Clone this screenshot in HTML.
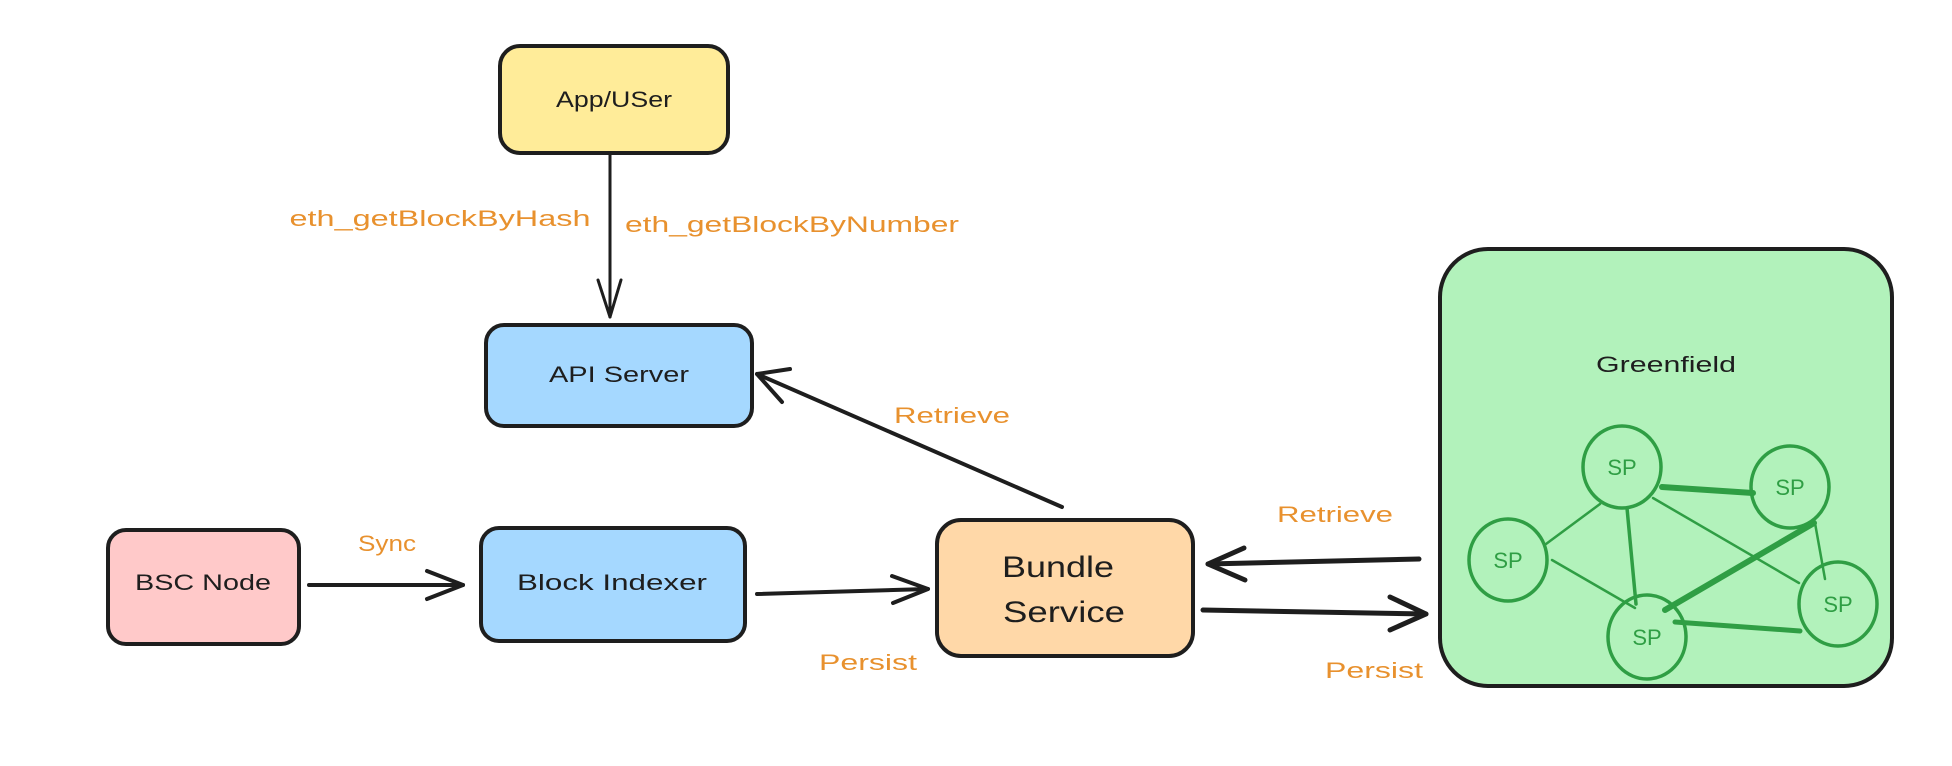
<!DOCTYPE html>
<html><head><meta charset="utf-8"><style>
html,body{margin:0;padding:0;background:#fff;}
svg{display:block;}
text{font-family:"Liberation Sans",sans-serif;}
</style></head><body>
<svg width="1952" height="766" viewBox="0 0 1952 766" xmlns="http://www.w3.org/2000/svg">
<g stroke="#1e1e1e" stroke-width="4" stroke-linejoin="round">
<rect x="500" y="46" width="228" height="107" rx="20" fill="#ffec99"/>
<rect x="486" y="325" width="266" height="101" rx="18" fill="#a5d8ff"/>
<rect x="108" y="530" width="191" height="114" rx="18" fill="#ffc9c9"/>
<rect x="481" y="528" width="264" height="113" rx="18" fill="#a5d8ff"/>
<rect x="937" y="520" width="256" height="136" rx="24" fill="#ffd8a8"/>
<rect x="1440" y="249" width="452" height="437" rx="48" fill="#b2f2bb"/>
</g>
<g stroke="#1e1e1e" stroke-width="3" fill="none" stroke-linecap="round" stroke-linejoin="round">
<path d="M610 153 L610 317"/><path d="M598 280 L610 317 L621 280"/>
<path d="M309 585 L463 585" stroke-width="4"/><path d="M427 571 L463 585 L427 599" stroke-width="4"/>
<path d="M757 594 L928 589" stroke-width="4"/><path d="M892 576 L928 589 L893 603" stroke-width="4"/>
<path d="M1062 507 L757 374" stroke-width="4"/><path d="M790 369 L757 374 L782 402" stroke-width="4"/>
<path d="M1419 559 L1208 564" stroke-width="5"/><path d="M1244 548 L1208 564 L1245 580" stroke-width="5"/>
<path d="M1203 610 L1426 614" stroke-width="5"/><path d="M1390 597 L1426 614 L1390 630" stroke-width="5"/>
</g>
<g stroke="#2f9e44" fill="none" stroke-linecap="round" stroke-width="2.5">
<path d="M1662 487 L1753 493" stroke-width="6"/>
<path d="M1600 504 L1546 544"/>
<path d="M1627 508 L1636 604" stroke-width="3.5"/>
<path d="M1653 498 L1799 583"/>
<path d="M1552 560 L1635 608"/>
<path d="M1665 610 L1814 523" stroke-width="6"/>
<path d="M1815 523 L1825 579"/>
<path d="M1675 622 L1800 631" stroke-width="5"/>
<ellipse cx="1622" cy="467" rx="39" ry="41" stroke-width="3.5"/>
<ellipse cx="1790" cy="487" rx="39" ry="41" stroke-width="3.5"/>
<ellipse cx="1508" cy="560" rx="39" ry="41" stroke-width="3.5"/>
<ellipse cx="1647" cy="637" rx="39" ry="42" stroke-width="3.5"/>
<ellipse cx="1838" cy="604" rx="39" ry="42" stroke-width="3.5"/>
</g>
<g fill="#2f9e44" font-size="22" text-anchor="middle">
<text x="1622" y="475">SP</text><text x="1790" y="495">SP</text><text x="1508" y="568">SP</text>
<text x="1647" y="645">SP</text><text x="1838" y="612">SP</text>
</g>
<g fill="#1e1e1e" font-size="22" text-anchor="middle">
<text x="614" y="107" textLength="116" lengthAdjust="spacingAndGlyphs">App/USer</text>
<text x="619" y="382" textLength="140" lengthAdjust="spacingAndGlyphs">API Server</text>
<text x="203" y="590" textLength="136" lengthAdjust="spacingAndGlyphs">BSC Node</text>
<text x="612" y="590" textLength="190" lengthAdjust="spacingAndGlyphs">Block Indexer</text>
<text x="1666" y="372" textLength="140" lengthAdjust="spacingAndGlyphs">Greenfield</text>
<text x="1058" y="577" font-size="30" textLength="112" lengthAdjust="spacingAndGlyphs">Bundle</text>
<text x="1064" y="622" font-size="30" textLength="122" lengthAdjust="spacingAndGlyphs">Service</text>
</g>
<g fill="#e8912e" font-size="22" text-anchor="middle">
<text x="440" y="226" textLength="301" lengthAdjust="spacingAndGlyphs">eth_getBlockByHash</text>
<text x="792" y="232" textLength="334" lengthAdjust="spacingAndGlyphs">eth_getBlockByNumber</text>
<text x="952" y="423" textLength="116" lengthAdjust="spacingAndGlyphs">Retrieve</text>
<text x="387" y="551" textLength="58" lengthAdjust="spacingAndGlyphs">Sync</text>
<text x="868" y="670" textLength="98" lengthAdjust="spacingAndGlyphs">Persist</text>
<text x="1335" y="522" textLength="116" lengthAdjust="spacingAndGlyphs">Retrieve</text>
<text x="1374" y="678" textLength="98" lengthAdjust="spacingAndGlyphs">Persist</text>
</g>
</svg>
</body></html>
